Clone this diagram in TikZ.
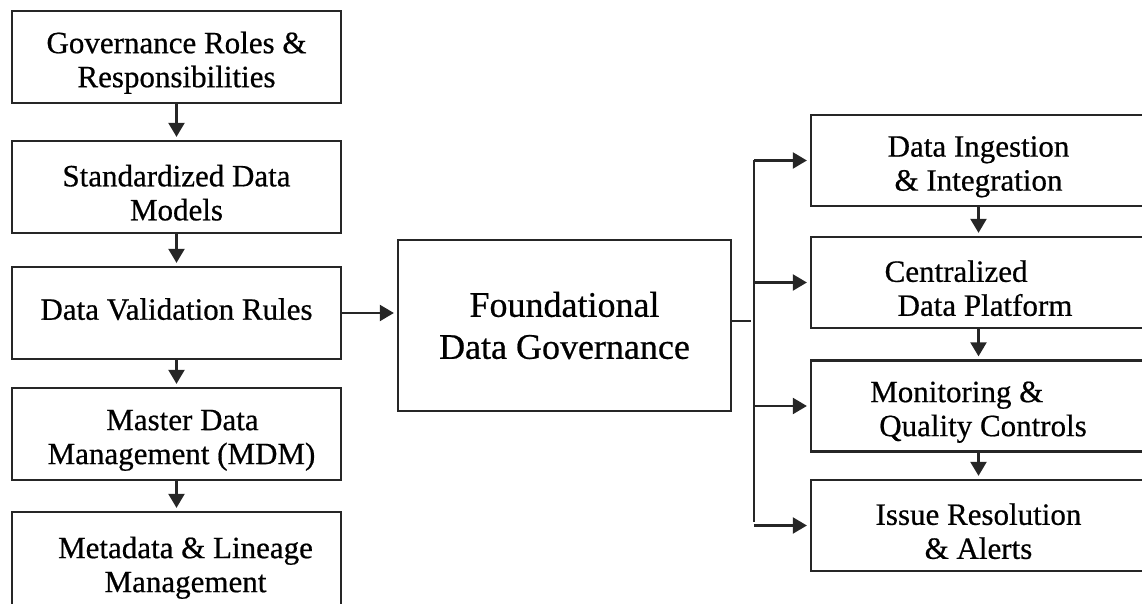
\documentclass[tikz,border=0pt]{standalone}
\usepackage{fontspec}
\setmainfont{Liberation Serif}[FakeBold=0.6]
\usetikzlibrary{arrows.meta,positioning}

% taller first line, pushes two-line labels down a little
\newcommand\lowline{\rule{0pt}{33pt}}

\begin{document}
\begin{tikzpicture}[->,>={Triangle[length=14pt,width=16pt]},shorten >=3pt,
                    x=1pt,y=1pt,line width=2.3pt,draw=black!85]
  \tikzstyle{box}=[draw=black!85,line width=2.3pt,inner sep=0pt,align=center,
                   text=black,font=\fontsize{31}{34}\selectfont]
  \tikzstyle{lbox}=[box,minimum width=329pt,minimum height=92pt]
  \tikzstyle{rbox}=[box,minimum width=335pt,minimum height=91pt]

  \useasboundingbox (0,0) rectangle (1142,604);
  \clip (0,0) rectangle (1142,604);

  % left column
  \node[lbox]      (G) at (176.5,547)  {\lowline Governance Roles \&\\Responsibilities};
  \node[lbox]      (S) at (176.5,417)  {\lowline Standardized Data\\Models};
  \node[lbox,text depth=8pt]
                   (V) at (176.5,291)  {Data Validation Rules};
  \node[lbox]      (M) at (176.5,170)  {\lowline\hspace{12pt}Master Data\\\hspace{10pt}Management (MDM)};
  \node[lbox,minimum height=100pt]
                   (L) at (176.5,42)   {\lowline\hspace{18pt}Metadata \& Lineage\\\hspace{18pt}Management};

  % middle
  \node[box,minimum width=333pt,minimum height=171pt,
        font=\fontsize{36}{42}\selectfont]
                   (F) at (564.5,278.5) {Foundational\\Data Governance};

  % right column
  \node[rbox]      (I) at (978.5,443.5) {\lowline Data Ingestion\\\& Integration};
  \node[rbox,align=left]
                   (C) at (978.5,321.5) {\lowline Centralized\\\hspace{13pt}Data Platform};
  \node[rbox,align=left]
                   (Q) at (978.5,198)   {\lowline Monitoring \&\\\hspace{9pt}Quality Controls};
  \node[rbox]      (A) at (978.5,78.5)  {\lowline Issue Resolution\\\& Alerts};

  \coordinate (J) at (754,283);

  \path (G) edge (S)
        (S) edge (V)
        (V) edge (M)
        (M) edge (L)
        (V.east) edge (V.east -| F.west)
        (I) edge (C)
        (C) edge (Q)
        (Q) edge (A);

  % branch out of the middle box
  \draw[-] (J -| F.east) -- (J);
  \draw[-] (I.west -| J) -- (A.west -| J);
  \path (I.west -| J) edge (I.west)
        (C.west -| J) edge (C.west)
        (Q.west -| J) edge (Q.west)
        (A.west -| J) edge (A.west);
\end{tikzpicture}
\end{document}
